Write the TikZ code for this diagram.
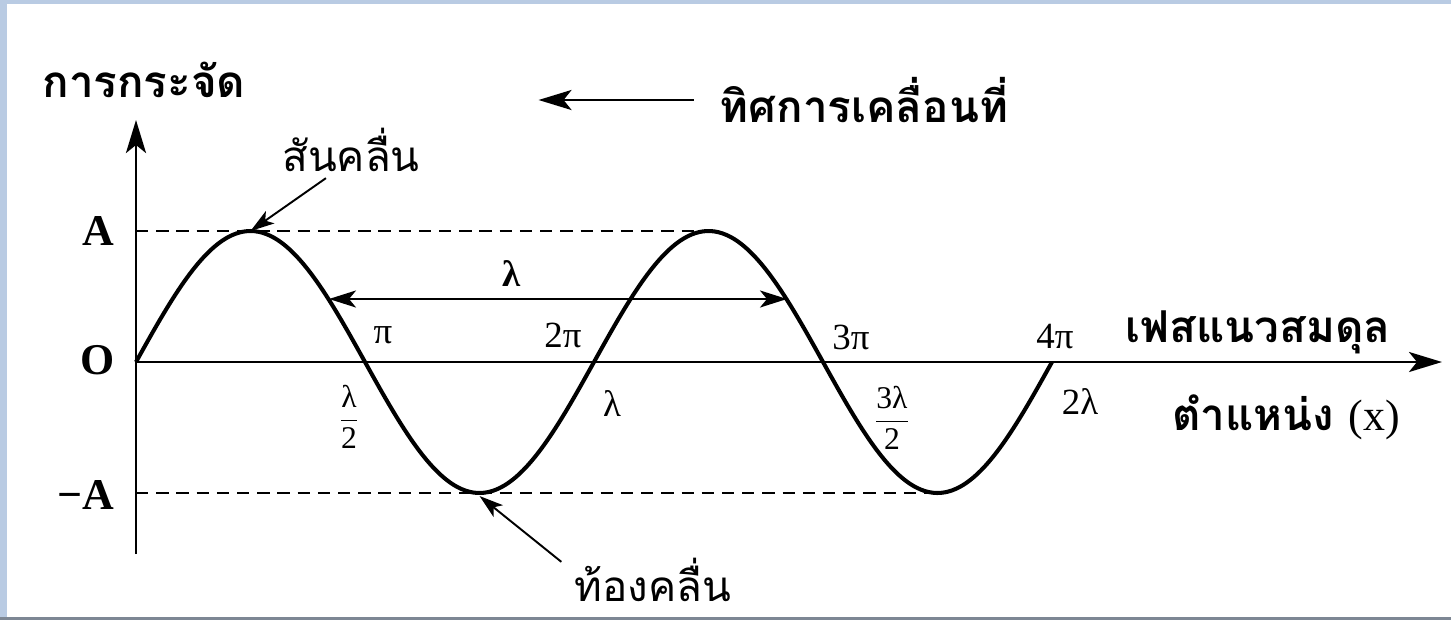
\documentclass[tikz,border=0pt]{standalone}
\usepackage{fontspec}
\usepackage{amsmath}
\setmainfont{Liberation Serif}
\newfontfamily\thaifont[Script=Thai]{Loma}
\usetikzlibrary{arrows.meta,positioning,calc}
\definecolor{frameBlue}{HTML}{B9CBE3}
\definecolor{frameGrey}{HTML}{7D8794}
\tikzset{
  thaibig/.style={font=\thaifont\bfseries\fontsize{25}{29}\selectfont, inner sep=0pt},
  thaipoint/.style={font=\thaifont\fontsize{24}{28}\selectfont, inner sep=0pt},
  amplab/.style={font=\bfseries\fontsize{25}{28}\selectfont, inner sep=0pt},
  phaselab/.style={font=\fontsize{21}{24}\selectfont, inner sep=0pt},
  fraclab/.style={font=\fontsize{18}{20}\selectfont, inner sep=0pt},
  axisline/.style={line width=1.7pt, -{Stealth[length=6.6mm, width=4mm, inset=1.6mm]}},
  waveline/.style={line width=2.3pt},
  guide/.style={line width=1.1pt, dash pattern=on 7pt off 4.5pt},
  pointer/.style={line width=1.1pt, -{Stealth[length=4.8mm, width=3mm, inset=1.2mm]}},
  lamarrow/.style={line width=1.4pt, {Stealth[length=5.4mm, width=3.4mm, inset=1.4mm]}-{Stealth[length=5.4mm, width=3.4mm, inset=1.4mm]}},
}

\begin{document}
\begin{tikzpicture}[x=0.02cm, y=0.02cm]
\useasboundingbox (-136,-258) rectangle (1315,362);
% frame of the slide
\fill[frameBlue] (-136,-258) rectangle (-129,362);
\fill[frameBlue] (-136,358) rectangle (1315,362);
\fill[frameGrey] (-136,-258) rectangle (1315,-255);

% axes
\coordinate (O) at (0,0);
\coordinate (ybot) at (0,-192);
\coordinate (ytop) at (0,242);
\coordinate (xend) at (1306,0);
\draw[axisline] (ybot) -- (ytop);
\draw[axisline] (O) -- (xend);

% crests and troughs
\coordinate (crest) at (114.5,131);
\coordinate (trough) at (343.5,-131);
\coordinate (crestB) at (572.5,131);
\coordinate (troughB) at (801.5,-131);
\draw[guide] (0,131) -- (crestB);
\draw[guide] (0,-131) -- (troughB);

% the wave
\draw[waveline] plot[domain=0:916, samples=240, smooth] (\x, {131*sin(\x/229*180)});

% wavelength
\coordinate (lamL) at (193,63);
\coordinate (lamR) at (651,63);
\draw[lamarrow] (lamL) -- (lamR);
\node[phaselab, font=\bfseries\fontsize{21}{24}\selectfont] (lam) at (376,88) {λ};

% amplitude labels
\node[amplab, anchor=east] (lblA) at (-21,131) {A};
\node[amplab, anchor=east] (lblO) at (-21,2) {O};
\node[amplab, anchor=east] (lblmA) at (-21,-133) {−A};

% phase and position marks
\node[phaselab] (p1) at (247,27) {π};
\node[phaselab] (p2) at (427,27) {2π};
\node[phaselab] (p3) at (715,25) {3π};
\node[phaselab] (p4) at (919,25) {4π};
\node[fraclab] (x1) at (213,-55) {$\dfrac{\text{λ}}{\text{2}}$};
\node[phaselab] (x2) at (476,-42) {λ};
\node[fraclab] (x3) at (756,-56) {$\dfrac{\text{3λ}}{\text{2}}$};
\node[phaselab] (x4) at (944,-40) {2λ};

% Thai captions
\node[thaibig] (disp) at (8,282) {การกระจัด};
\node[thaibig] (dir) at (728,262) {ทิศการเคลื่อนที่};
\node[thaibig] (eqline) at (1122,30) {เฟสแนวสมดุล};
\node[thaibig] (pos) at (1150,-55) {ตำแหน่ง {\rmfamily\mdseries(x)}};
\node[thaipoint] (sk) at (215,212) {สันคลื่น};
\node[thaipoint] (tk) at (517,-218) {ท้องคลื่น};

\draw[axisline] ($(dir.west)+(-26,0)$) -- ($(dir.west)+(-181,0)$);
\draw[pointer] ($(sk.south west)+(44,-6)$) -- (crest);
\draw[pointer] ($(tk.north west)+(-13,-4)$) -- ($(trough)+(0,-3)$);
\end{tikzpicture}
\end{document}
